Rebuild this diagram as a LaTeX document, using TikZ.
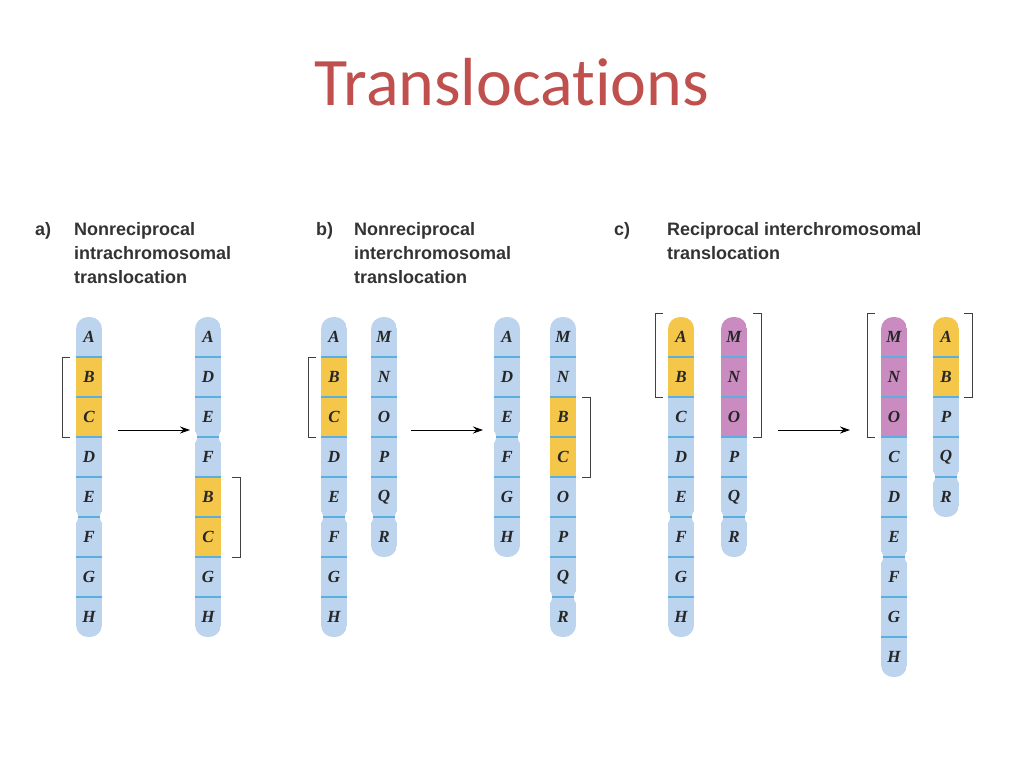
\documentclass[tikz,border=0pt]{standalone}
\usepackage{fontspec}
\setmainfont{Liberation Serif}
\newfontfamily\titlefont[Ligatures=NoCommon]{Carlito}
\newfontfamily\headfont{Liberation Sans}
\definecolor{bl}{HTML}{BCD4EE}
\definecolor{ye}{HTML}{F4C64A}
\definecolor{mg}{HTML}{C98BC0}
\definecolor{sepc}{HTML}{5AAEE0}
\definecolor{ttl}{HTML}{C0504D}
\usetikzlibrary{arrows.meta}
\tikzset{
 lab/.style={font=\fontsize{17}{17}\selectfont\bfseries\itshape, text=black!85, inner sep=0pt},
 head/.style={font=\headfont\bfseries\fontsize{18}{24}\selectfont, align=left, anchor=north west, inner sep=0pt, text=black!80},
 sepline/.style={draw=sepc, line width=1.2pt},
 brk/.style={black!75, line width=1pt},
 arr/.style={-{Stealth[length=10pt,width=7pt]}, line width=1pt}
}
% #1 x, #2 n bands, #3 centromere boundary index, #4 name prefix, #5 list label/color
\newcommand\chrom[5]{%
\begin{scope}
\clip[rounded corners=12pt] (#1-13,317) rectangle (#1+13,317+#2*40);
\foreach \l/\c [count=\i from 0] in {#5} {
  \fill[\c] (#1-13,317+\i*40) rectangle (#1+13,357+\i*40);
  \ifnum\i>0 \path[sepline] (#1-13,317+\i*40) -- (#1+13,317+\i*40);\fi
  \node[lab] (#4\i) at (#1,337+\i*40) {\l};
}
\end{scope}
\fill[white] (#1-15.5,317+#3*40) ellipse (4.5 and 7);
\fill[white] (#1+15.5,317+#3*40) ellipse (4.5 and 7);
}
\begin{document}
\begin{tikzpicture}[x=1pt,y=-1pt]
\useasboundingbox (0,0) rectangle (1024,768);
\node[font=\titlefont\fontsize{68}{68}\selectfont, text=ttl] (title) at (512,82) {Translocations};

\node[head] (ha) at (35,222) {a)};
\node[head] (hat) at (74,222) {Nonreciprocal\\intrachromosomal\\translocation};
\node[head] (hb) at (316,222) {b)};
\node[head] (hbt) at (354,222) {Nonreciprocal\\interchromosomal\\translocation};
\node[head] (hc) at (614,222) {c)};
\node[head] (hct) at (667,222) {Reciprocal interchromosomal\\translocation};

% a
\chrom{89}{8}{5}{al}{A/bl,B/ye,C/ye,D/bl,E/bl,F/bl,G/bl,H/bl}
\chrom{208}{8}{3}{ar}{A/bl,D/bl,E/bl,F/bl,B/ye,C/ye,G/bl,H/bl}
% b
\chrom{334}{8}{5}{bl}{A/bl,B/ye,C/ye,D/bl,E/bl,F/bl,G/bl,H/bl}
\chrom{384}{6}{5}{bm}{M/bl,N/bl,O/bl,P/bl,Q/bl,R/bl}
\chrom{507}{6}{3}{br}{A/bl,D/bl,E/bl,F/bl,G/bl,H/bl}
\chrom{563}{8}{7}{bs}{M/bl,N/bl,B/ye,C/ye,O/bl,P/bl,Q/bl,R/bl}
% c
\chrom{681}{8}{5}{cl}{A/ye,B/ye,C/bl,D/bl,E/bl,F/bl,G/bl,H/bl}
\chrom{734}{6}{5}{cm}{M/mg,N/mg,O/mg,P/bl,Q/bl,R/bl}
\chrom{894}{9}{6}{cr}{M/mg,N/mg,O/mg,C/bl,D/bl,E/bl,F/bl,G/bl,H/bl}
\chrom{946}{5}{4}{cs}{A/ye,B/ye,P/bl,Q/bl,R/bl}

% arrows
\coordinate (a1) at (118,430); \coordinate (a2) at (190,430);
\coordinate (b1) at (411,430); \coordinate (b2) at (483,430);
\coordinate (c1) at (778,430); \coordinate (c2) at (850,430);
\draw[arr] (a1) -- (a2);
\draw[arr] (b1) -- (b2);
\draw[arr] (c1) -- (c2);

% brackets
\draw[brk] (70,357) -- (62,357) -- (62,437) -- (70,437);
\draw[brk] (232,477) -- (240,477) -- (240,557) -- (232,557);
\draw[brk] (316,357) -- (308,357) -- (308,437) -- (316,437);
\draw[brk] (582,397) -- (590,397) -- (590,477) -- (582,477);
\draw[brk] (663,313) -- (655,313) -- (655,397) -- (663,397);
\draw[brk] (753,313) -- (761,313) -- (761,437) -- (753,437);
\draw[brk] (875,313) -- (867,313) -- (867,437) -- (875,437);
\draw[brk] (964,313) -- (972,313) -- (972,397) -- (964,397);
\end{tikzpicture}
\end{document}
